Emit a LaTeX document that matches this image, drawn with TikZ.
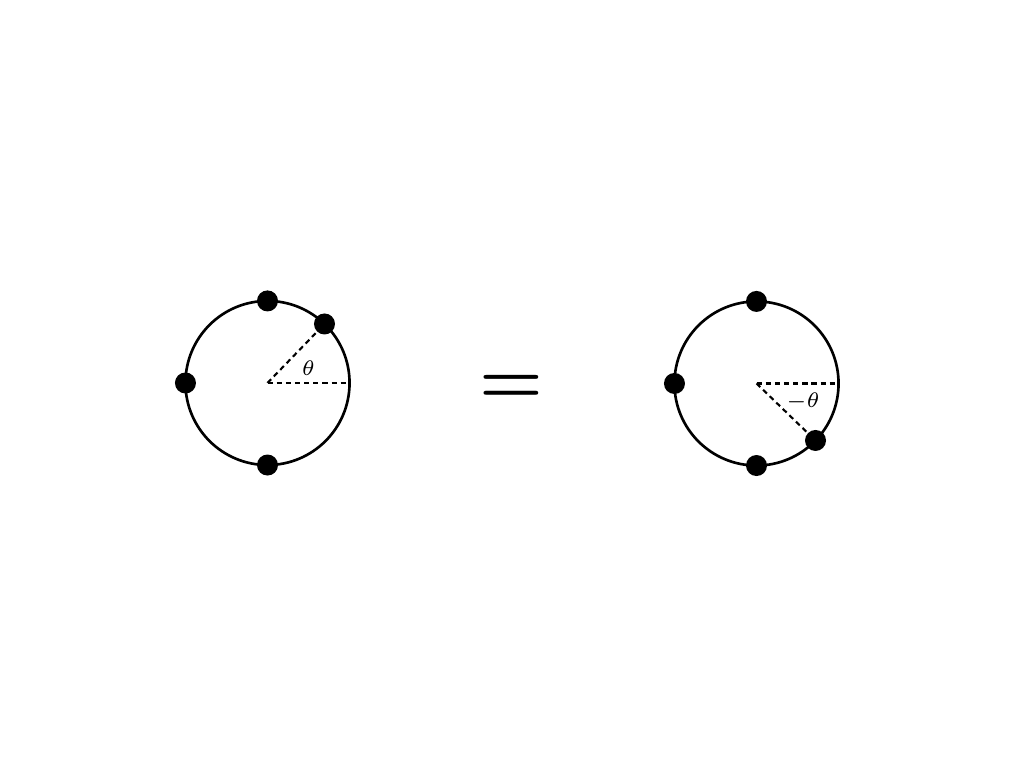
\documentclass[tikz,border=0pt]{standalone}
\usetikzlibrary{calc}
\begin{document}
\begin{tikzpicture}[x=0.01cm,y=-0.01cm,
  ring/.style={line width=0.75pt},
  guide/.style={line width=0.6pt,dash pattern=on 1.5pt off 1.1pt},
  bead/.style={circle,fill=black,inner sep=0pt,minimum size=0.21cm},
  lbl/.style={font=\fontsize{6.5}{8}\selectfont}]
\useasboundingbox (0,0) rectangle (1024,768);
% left
\coordinate (cL) at (267.5,383);
\draw[ring] (cL) circle (0.82cm);
\node[bead] (lt) at ($(cL)+(90:0.82cm)$) {};
\node[bead] (ll) at ($(cL)+(180:0.82cm)$) {};
\node[bead] (lb) at ($(cL)+(270:0.82cm)$) {};
\node[bead] (la) at ($(cL)+(46:0.82cm)$) {};
\coordinate (lr) at ($(cL)+(0:0.79cm)$);
\draw[guide] (cL) -- (la);
\draw[guide] (cL) -- (lr);
\node[lbl] (th1) at (308.5,368.5) {$\theta$};
% equals
\node[font=\fontsize{19.5}{23}\selectfont\boldmath,inner sep=0pt] (eq) at (511.5,389) {$=$};
% right
\coordinate (cR) at (756.5,383.5);
\draw[ring] (cR) circle (0.82cm);
\node[bead] (rt) at ($(cR)+(90:0.82cm)$) {};
\node[bead] (rl) at ($(cR)+(180:0.82cm)$) {};
\node[bead] (rb) at ($(cR)+(270:0.82cm)$) {};
\node[bead] (ra) at ($(cR)+(-44:0.82cm)$) {};
\coordinate (rr) at ($(cR)+(0:0.79cm)$);
\draw[guide] (cR) -- (ra);
\draw[guide] (cR) -- (rr);
\node[lbl] (th2) at (803,401.5) {$-\theta$};
\end{tikzpicture}
\end{document}
